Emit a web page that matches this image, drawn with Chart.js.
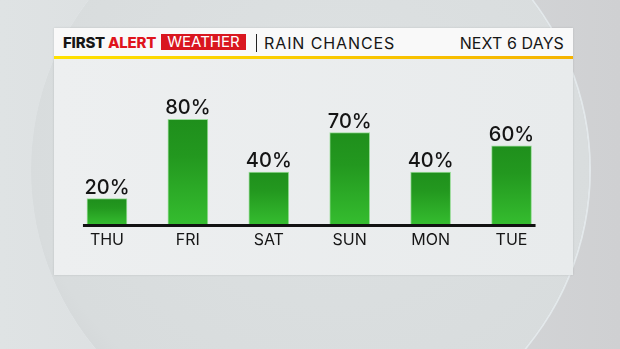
<!DOCTYPE html>
<html><head><meta charset="utf-8">
<script src="https://cdn.jsdelivr.net/npm/chart.js@4.4.1/dist/chart.umd.min.js"></script>
<style>
html,body{margin:0;padding:0;width:620px;height:349px;overflow:hidden}
body{position:relative;background:linear-gradient(90deg,#dfe3e4 0%,#d9dcde 45%,#cfd0d2 100%);font-family:Inter,"Noto Sans",sans-serif}
#orb{position:absolute;left:31px;top:-109px;width:558px;height:558px;border-radius:50%;
background:radial-gradient(circle at 54% 40%,#dde1e2 0%,#d8dcdd 70%,#cdd0d2 86%,#bcbfc1 97%,#d3d6d8 100%);
box-shadow:1px 0 0 1px rgba(235,242,245,0.7)}
#panel{position:absolute;left:54px;top:28px;width:519px;height:247px;background:linear-gradient(90deg,#edeff0,#e8ebec);box-shadow:0 0 2px rgba(0,0,0,0.12)}
#hdr{position:absolute;left:54px;top:28px;width:519px;height:28px;background:#f9f9f9}
#yl{position:absolute;left:54px;top:56px;width:519px;height:3px;background:linear-gradient(90deg,#ffe100,#f5b300)}
.t{position:absolute;white-space:nowrap;line-height:20px;color:#161616}
#first{left:63px;top:33px;font-size:15px;font-weight:800;letter-spacing:-0.2px}
#alert{left:108px;top:33px;font-size:15px;font-weight:800;color:#e0141c;letter-spacing:-0.2px}
#wbox{position:absolute;left:161px;top:34px;width:85px;height:16px;background:#d9161f}
#weather{left:161px;width:85px;text-align:center;top:32px;font-size:15px;font-weight:400;color:#fff}
#sep{position:absolute;left:255.5px;top:34px;width:1.6px;height:18px;background:#222}
#rain{left:264px;top:32.5px;font-size:16px;font-weight:400;letter-spacing:0.9px}
#next{right:56px;top:32.5px;font-size:16px;font-weight:400;letter-spacing:0.1px}
canvas{position:absolute;left:0;top:0}
</style></head>
<body>
<div id="orb"></div>
<div id="panel"></div>
<div id="hdr"></div>
<div id="yl"></div>
<div class="t" id="first">FIRST</div>
<div class="t" id="alert">ALERT</div>
<div id="wbox"></div>
<div class="t" id="weather">WEATHER</div>
<div id="sep"></div>
<div class="t" id="rain">RAIN CHANCES</div>
<div class="t" id="next">NEXT 6 DAYS</div>
<canvas id="c" width="620" height="349"></canvas>
<script>
const days = ["THU", "FRI", "SAT", "SUN", "MON", "TUE"];
const rainChance = [20, 80, 40, 70, 40, 60];
const yMin = 0;
const yMax = 100;

function barGradient(ctx) {
  const chart = ctx.chart;
  const sc = chart.scales;
  if (!chart.chartArea || !sc.y) return '#2aa726';
  const top = sc.y.getPixelForValue(ctx.raw);
  const bottom = sc.y.getPixelForValue(0);
  const g = chart.ctx.createLinearGradient(0, top, 0, bottom);
  g.addColorStop(0, '#1f8f1c');
  g.addColorStop(0.35, '#23981f');
  g.addColorStop(1, '#35bd2f');
  return g;
}

const valueLabels = {
  id: 'valueLabels',
  afterDatasetsDraw(chart) {
    const ctx = chart.ctx;
    const meta = chart.getDatasetMeta(0);
    ctx.save();
    ctx.font = '500 20px Inter, "Noto Sans", sans-serif';
    ctx.fillStyle = '#141414';
    ctx.textAlign = 'center';
    ctx.textBaseline = 'alphabetic';
    meta.data.forEach((el, i) => {
      ctx.fillText(rainChance[i] + '%', el.x, el.y - 5);
    });
    const first = meta.data[0], last = meta.data[meta.data.length - 1];
    const y0 = chart.scales.y.getPixelForValue(0);
    ctx.fillStyle = '#121212';
    ctx.fillRect(first.x - 24, y0 - 1, (last.x + 24) - (first.x - 24), 3);
    ctx.restore();
  }
};

new Chart(document.getElementById('c'), {
  type: 'bar',
  data: {
    labels: days,
    datasets: [{
      data: rainChance,
      backgroundColor: barGradient,
      borderColor: 'rgba(90,205,85,0.55)',
      borderWidth: 1,
      barThickness: 40
    }]
  },
  options: {
    responsive: false,
    devicePixelRatio: 1,
    animation: false,
    layout: { padding: { left: 66.5, right: 68, top: 93, bottom: 92.8 } },
    plugins: { legend: { display: false }, tooltip: { enabled: false } },
    scales: {
      y: { display: false, min: yMin, max: yMax },
      x: {
        grid: { display: false, drawTicks: false },
        border: { display: false },
        ticks: {
          padding: 6,
          color: '#161616',
          font: { family: 'Inter, "Noto Sans", sans-serif', size: 16, weight: '400' }
        }
      }
    }
  },
  plugins: [valueLabels]
});
</script>
</body></html>
